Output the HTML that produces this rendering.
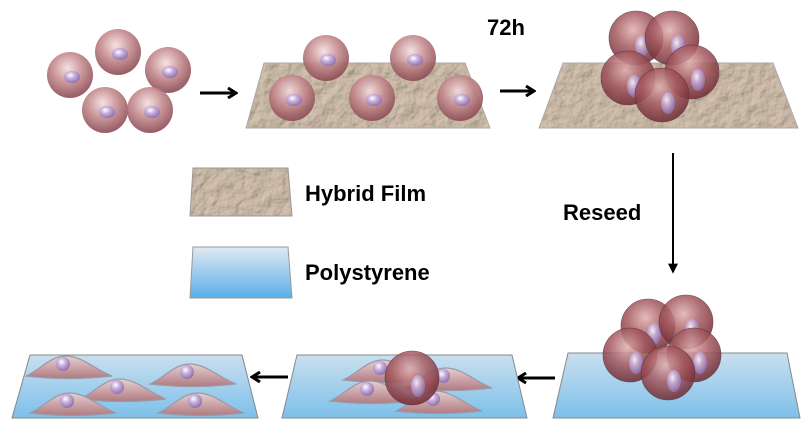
<!DOCTYPE html>
<html><head><style>body{margin:0;background:#fff}svg{display:block}</style></head><body>
<svg width="809" height="431" viewBox="0 0 809 431" xmlns="http://www.w3.org/2000/svg">
<defs>
<radialGradient id="sph" cx="0.45" cy="0.35" r="0.65">
<stop offset="0" stop-color="#f4dede"/><stop offset="0.5" stop-color="#c48a8e"/><stop offset="1" stop-color="#8a4a52"/></radialGradient>
<radialGradient id="dsph" cx="0.45" cy="0.35" r="0.65">
<stop offset="0" stop-color="#e0b0b0"/><stop offset="0.5" stop-color="#a55a60"/><stop offset="1" stop-color="#6e2a32"/></radialGradient>
<radialGradient id="nuc" cx="0.4" cy="0.35" r="0.7">
<stop offset="0" stop-color="#ffffff"/><stop offset="0.4" stop-color="#c8b0dc"/><stop offset="1" stop-color="#8a6aa8"/></radialGradient>
<linearGradient id="blue" x1="0" y1="0" x2="0" y2="1"><stop offset="0" stop-color="#c9dfee"/><stop offset="1" stop-color="#7dc0ea"/></linearGradient>
<linearGradient id="blue2" x1="0" y1="0" x2="0" y2="1"><stop offset="0" stop-color="#dfeaf2"/><stop offset="1" stop-color="#5aaee8"/></linearGradient>
<linearGradient id="flat" x1="0" y1="0" x2="0" y2="1"><stop offset="0" stop-color="#e6d0d0"/><stop offset="1" stop-color="#b07a80"/></linearGradient>
<filter id="tex" x="0" y="0" width="1" height="1">
<feTurbulence type="fractalNoise" baseFrequency="0.08" numOctaves="3" result="n"/>
<feDiffuseLighting in="n" surfaceScale="2" lighting-color="#d8c6b2" result="l"><feDistantLight azimuth="45" elevation="55"/></feDiffuseLighting>
<feComposite in="l" in2="SourceGraphic" operator="in"/>
</filter>
<marker id="ah" viewBox="0 0 12 12" refX="10" refY="6" markerWidth="12" markerHeight="12" markerUnits="userSpaceOnUse" orient="auto"><path d="M2,1 L10,6 L2,11" fill="none" stroke="#000" stroke-width="3"/></marker>
<marker id="ah2" viewBox="0 0 12 12" refX="10" refY="6" markerWidth="10" markerHeight="10" markerUnits="userSpaceOnUse" orient="auto"><path d="M0,0 L12,6 L0,12 z" fill="#000"/></marker>
<g id="cell"><circle r="23" fill="url(#sph)" opacity="0.9"/><ellipse cx="2" cy="2" rx="8" ry="6" fill="url(#nuc)"/></g>
<g id="dcell"><circle r="27" fill="url(#dsph)" opacity="0.85" stroke="#5a3040" stroke-width="0.6"/><ellipse cx="6" cy="8" rx="7" ry="11" fill="url(#nuc)" opacity="0.85"/></g>
<g id="fcell"><path d="M-42,8 C-28,2 -18,-12 -2,-12 C14,-12 28,2 44,8 Q0,13 -42,8z" fill="url(#flat)" stroke="#999aa8" stroke-width="1.2"/><circle cx="-5" cy="-4" r="7" fill="url(#nuc)"/></g>
</defs>

<use href="#cell" x="70" y="75"/><use href="#cell" x="118" y="52"/><use href="#cell" x="168" y="70"/><use href="#cell" x="105" y="110"/><use href="#cell" x="150" y="110"/>
<line x1="200" y1="93" x2="236" y2="93" stroke="#000" stroke-width="3" marker-end="url(#ah)"/>

<polygon points="264,63 465,63 490,128 246,128" fill="#cdb9a3" filter="url(#tex)"/>
<polygon points="264,63 465,63 490,128 246,128" fill="none" stroke="#aaa"/>
<use href="#cell" x="326" y="58"/><use href="#cell" x="413" y="58"/>
<use href="#cell" x="292" y="98"/><use href="#cell" x="372" y="98"/><use href="#cell" x="460" y="98"/>

<text x="487" y="35" font-family="Liberation Sans" font-weight="bold" font-size="22">72h</text>
<line x1="500" y1="91" x2="534" y2="91" stroke="#000" stroke-width="3" marker-end="url(#ah)"/>

<polygon points="563,63 773,63 798,128 539,128" fill="#cdb9a3" filter="url(#tex)"/>
<polygon points="563,63 773,63 798,128 539,128" fill="none" stroke="#aaa"/>
<use href="#dcell" x="636" y="38"/><use href="#dcell" x="672" y="38"/><use href="#dcell" x="628" y="78"/><use href="#dcell" x="692" y="72"/><use href="#dcell" x="662" y="95"/>

<polygon points="193,168 288,168 292,216 190,216" fill="#cdb9a3" filter="url(#tex)"/>
<polygon points="193,168 288,168 292,216 190,216" fill="none" stroke="#999"/>
<text x="305" y="201" font-family="Liberation Sans" font-weight="bold" font-size="22">Hybrid Film</text>
<polygon points="193,247 288,247 292,298 190,298" fill="url(#blue2)" stroke="#999"/>
<text x="305" y="280" font-family="Liberation Sans" font-weight="bold" font-size="22">Polystyrene</text>

<line x1="673" y1="153" x2="673" y2="272" stroke="#000" stroke-width="2" marker-end="url(#ah2)"/>
<text x="563" y="220" font-family="Liberation Sans" font-weight="bold" font-size="22">Reseed</text>

<polygon points="568,353 787,353 800,418 553,418" fill="url(#blue)" stroke="#888"/>
<use href="#dcell" x="648" y="326"/><use href="#dcell" x="686" y="322"/><use href="#dcell" x="630" y="355"/><use href="#dcell" x="694" y="355"/><use href="#dcell" x="668" y="373"/>
<line x1="555" y1="378" x2="518" y2="378" stroke="#000" stroke-width="3" marker-end="url(#ah)"/>

<polygon points="297,355 512,355 527,418 282,418" fill="url(#blue)" stroke="#888"/>
<use href="#fcell" x="385" y="372"/><use href="#fcell" x="448" y="380"/><use href="#fcell" x="372" y="393"/><use href="#fcell" x="438" y="403"/>
<use href="#dcell" x="412" y="378"/>
<line x1="288" y1="377" x2="252" y2="377" stroke="#000" stroke-width="3" marker-end="url(#ah)"/>

<polygon points="30,355 242,355 258,418 12,418" fill="url(#blue)" stroke="#888"/>
<use href="#fcell" x="68" y="368"/><use href="#fcell" x="192" y="376"/><use href="#fcell" x="122" y="391"/><use href="#fcell" x="72" y="405"/><use href="#fcell" x="200" y="405"/>
</svg>
</body></html>
